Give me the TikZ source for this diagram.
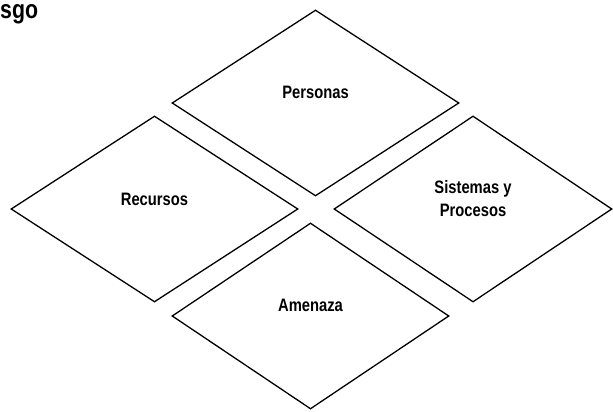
\documentclass[tikz,border=0pt]{standalone}
\usepackage{fontspec}
\setmainfont{Liberation Sans}[FakeStretch=0.82]
\usetikzlibrary{shapes.geometric}
\begin{document}
\begin{tikzpicture}[x=1pt, y=1pt,
  rombo/.style={draw=black, line width=1.3pt, shape=diamond, inner sep=0pt},
  etiqueta/.style={font=\fontsize{18}{23}\selectfont\bfseries, align=center, inner sep=0pt}]
  % Frame
  \useasboundingbox (0,0) rectangle (613,412);

  % Title (cut off at the left edge)
  \node[anchor=base west, inner sep=0pt, font=\fontsize{26}{30}\selectfont\bfseries] (titulo) at (0,393) {sgo};

  % Diamonds
  \node[rombo, minimum width=287, minimum height=186] (personas) at (315.5,309) {};
  \node[rombo, minimum width=287, minimum height=186] (recursos) at (154.5,203) {};
  \node[rombo, minimum width=278, minimum height=186] (sistemas) at (473,203) {};
  \node[rombo, minimum width=277, minimum height=186] (amenaza) at (310.5,96) {};

  % Labels
  \node[etiqueta] (lpersonas) at ([yshift=11]personas.center) {Personas};
  \node[etiqueta] (lrecursos) at ([yshift=10]recursos.center) {Recursos};
  \node[etiqueta] (lsistemas) at ([yshift=10]sistemas.center) {Sistemas y\\Procesos};
  \node[etiqueta] (lamenaza) at ([yshift=11]amenaza.center) {Amenaza};
\end{tikzpicture}
\end{document}
